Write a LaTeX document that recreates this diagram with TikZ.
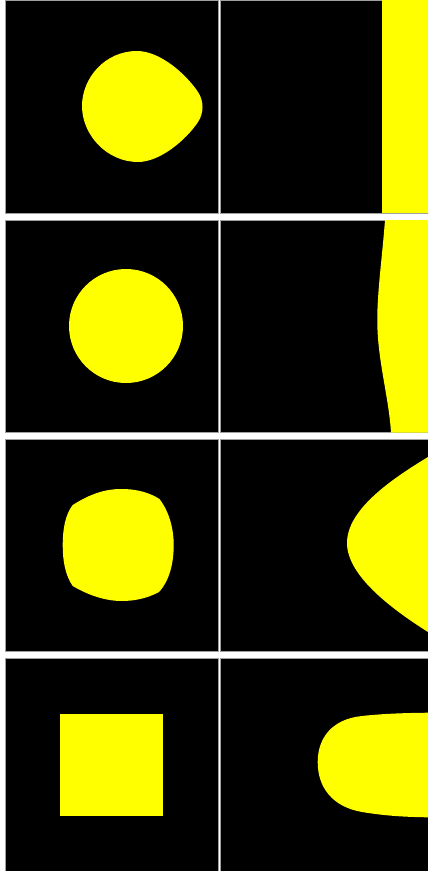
\documentclass[tikz,border=0pt]{standalone}
\usepackage{tikz}

\definecolor{blobYellow}{HTML}{FFFF00}
\definecolor{frameGray}{HTML}{A0A0A0}

\begin{document}
\begin{tikzpicture}[x=1pt,y=-1pt]
  \useasboundingbox (0,0) rectangle (428,871);
  \fill[white] (0,0) rectangle (428,871);

  % black panels, two per row
  \foreach \top/\bot in {0/213,220/432.5,439.5/651,658.5/871} {
    \filldraw[fill=black,draw=frameGray,line width=0.8pt] (5,\top) rectangle (218,\bot);
    \filldraw[fill=black,draw=frameGray,line width=0.8pt] (220,\top) rectangle (428,\bot);
  }

  % row 1
  \fill[blobYellow] (137,51) .. controls (105,51) and (82,78) .. (82,106)
    .. controls (82,135) and (107,162) .. (138,162)
    .. controls (160,162) and (186,140) .. (198,122)
    .. controls (204,113) and (204,101) .. (198,92)
    .. controls (186,74) and (160,51) .. (137,51) -- cycle;
  \fill[blobYellow] (382,0) rectangle (428,213);

  % row 2
  \fill[blobYellow] (126,326) circle (57);
  \fill[blobYellow] (385,220) .. controls (382,260) and (376,300) .. (377.5,330)
    .. controls (379,365) and (389,400) .. (391,432.5) -- (428,432.5) -- (428,220) -- cycle;

  % row 3
  \fill[blobYellow] (72.7,505) .. controls (90,494) and (105,489) .. (121,489)
    .. controls (138,489) and (150,493) .. (159.5,499)
    .. controls (170,513) and (173.7,530) .. (173.7,545)
    .. controls (173.7,562) and (170,580) .. (159,592)
    .. controls (148,598) and (135,601) .. (122,601)
    .. controls (105,601) and (88,595) .. (72.7,586)
    .. controls (65,575) and (62.7,560) .. (62.7,545)
    .. controls (62.7,530) and (65,515) .. (72.7,505) -- cycle;
  \fill[blobYellow] (428,457) .. controls (390,480) and (347,510) .. (347,543)
    .. controls (347,575) and (390,608) .. (428,632) -- cycle;

  % row 4
  \fill[blobYellow] (60.3,713.7) rectangle (162.7,815.7);
  \fill[blobYellow] (428,712.7) .. controls (400,713) and (380,714) .. (362,716)
    .. controls (332,719) and (317.7,738) .. (317.7,762)
    .. controls (317.7,788) and (333,807) .. (362,812)
    .. controls (380,815) and (400,817) .. (428,817.3) -- cycle;
\end{tikzpicture}
\end{document}
